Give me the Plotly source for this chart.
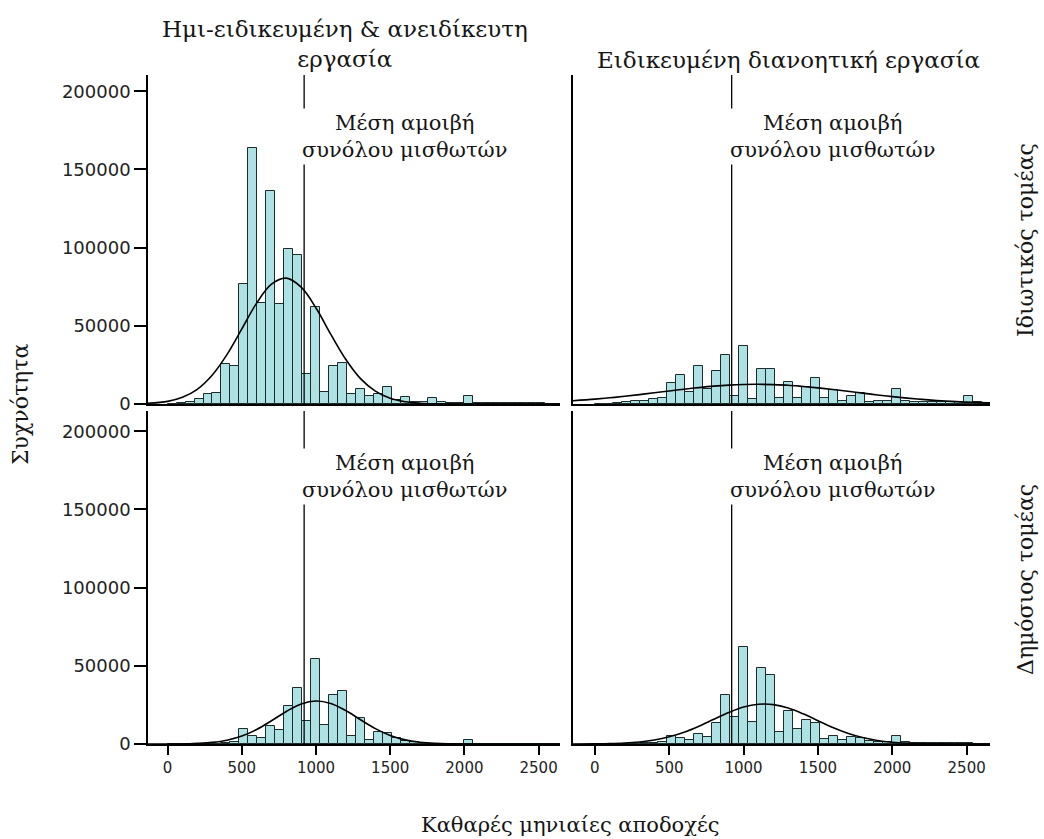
import plotly.graph_objects as go

# ---------------- data ----------------
bin_width = 60.5
bin_index = list(range(44))
bin_centers = [(k + 0.5) * bin_width for k in bin_index]

# counts per bin (private sector, semi/unskilled)
tl_counts = [300, 500, 1500, 3000, 6400, 7200, 25600, 24300, 76700, 163500, 64400, 136200,
             63700, 98900, 95100, 19200, 62200, 7500, 24300, 26400, 6200, 9400, 5000, 6200,
             10900, 2500, 4700, 1500, 1000, 3600, 1000, 800, 800, 5000, 600, 500, 400, 400,
             400, 400, 400, 400, 300, 300]
# private sector, skilled intellectual
tr_counts = [0, 300, 800, 1500, 1700, 2100, 3200, 4000, 13200, 18500, 7900, 24500, 9400,
             21100, 31300, 5300, 37300, 3200, 22200, 22200, 4000, 14300, 4000, 10700, 16400,
             3600, 9000, 1700, 5300, 6800, 1500, 2000, 1700, 9600, 1700, 1500, 1000, 1000,
             1000, 1000, 1200, 5000, 1000, 800]
# public sector, semi/unskilled
bl_counts = [0, 0, 0, 0, 0, 0, 500, 1000, 9400, 5000, 4000, 11500, 8800, 24300, 35800,
             14900, 54100, 12300, 31500, 33800, 5200, 16400, 2800, 7900, 7200, 4000, 2000,
             1000, 500, 300, 200, 200, 200, 2600, 200, 100, 100, 100, 100, 100, 100, 100,
             100, 100]
# public sector, skilled intellectual
br_counts = [0, 0, 0, 0, 300, 500, 700, 1000, 5100, 4100, 2600, 6400, 4700, 13200, 31300,
             17500, 62200, 14300, 48400, 44100, 7900, 21300, 9400, 15300, 13600, 3000, 5100,
             2600, 4700, 4100, 2000, 1500, 1000, 5100, 1000, 500, 500, 400, 400, 400, 400,
             800, 300, 300]

# fitted normal curves
curve_x = [-150, 0, 100, 200, 300, 400, 500, 600, 700, 800, 900, 1000, 1100, 1200, 1300,
           1400, 1500, 1600, 1700, 1800, 1900, 2000, 2100, 2200, 2300, 2400, 2500, 2600, 2660]
tl_curve = [300, 1700, 4300, 9400, 18400, 31600, 48000, 64500, 76600, 80500, 74700, 61400,
            44500, 28600, 16200, 8200, 3600, 1400, 500, 150, 40, 10, 0, 0, 0, 0, 0, 0, 0]
tr_curve = [2040, 3090, 3950, 4940, 6020, 7170, 8350, 9480, 10500, 11400, 12100, 12500,
            12600, 12400, 12000, 11200, 10300, 9260, 8110, 6940, 5800, 4730, 3770, 2930,
            2230, 1650, 1200, 850, 680]
bl_curve = [0, 0, 0, 380, 1030, 2440, 5090, 9290, 14900, 20800, 25600, 27500, 25900, 21400,
            15500, 9810, 5440, 2650, 1130, 420, 140, 40, 0, 0, 0, 0, 0, 0, 0]
br_curve = [0, 110, 270, 630, 1320, 2560, 4580, 7520, 11400, 15800, 20100, 23600, 25400,
            25200, 23000, 19300, 14900, 10500, 6860, 4100, 2260, 1140, 530, 230, 90, 30, 0, 0, 0]

mean_wage = 920

col_titles = ["Ημι-ειδικευμένη & ανειδίκευτη<br>εργασία", "Ειδικευμένη διανοητική εργασία"]
row_titles = ["Ιδιωτικός τομέας", "Δημόσιος τομέας"]
mean_label = "Μέση αμοιβή<br>συνόλου μισθωτών"
x_title = "Καθαρές μηνιαίες αποδοχές"
y_title = "Συχνότητα"
y_ticks = [0, 50000, 100000, 150000, 200000]
y_tick_text = ["0", "50000", "100000", "150000", "200000"]
x_ticks = [0, 500, 1000, 1500, 2000, 2500]
x_tick_text = ["0", "500", "1000", "1500", "2000", "2500"]

# ---------------- figure ----------------
BAR_FILL = "#aee1e4"
BAR_LINE = "#1e2b2b"
SERIF = "DejaVu Serif"
SANS = "DejaVu Sans"
TXT = "#151515"

fig = go.Figure()
panels = [
    (tl_counts, tl_curve, "x", "y"),
    (tr_counts, tr_curve, "x2", "y2"),
    (bl_counts, bl_curve, "x3", "y3"),
    (br_counts, br_curve, "x4", "y4"),
]
for counts, curve, xa, ya in panels:
    fig.add_trace(go.Bar(x=bin_centers, y=counts, width=bin_width, xaxis=xa, yaxis=ya,
                         marker=dict(color=BAR_FILL, line=dict(color=BAR_LINE, width=1)),
                         showlegend=False, hoverinfo="skip"))
    fig.add_trace(go.Scatter(x=curve_x, y=curve, mode="lines", xaxis=xa, yaxis=ya,
                             line=dict(color="black", width=1.6, shape="spline"),
                             showlegend=False, hoverinfo="skip"))

# geometry
L, R, T, B = 148, 54, 75, 95
W, H = 1044, 839
pw = W - L - R
ph = H - T - B
x_left = [0, (560 - L) / pw]
x_right = [(573 - L) / pw, 1]
y_top = [(744 - 404) / ph, 1]
y_bot = [0, (744 - 411) / ph]

axis_common = dict(showgrid=False, zeroline=False, showline=True, linecolor="black",
                   linewidth=1.5, mirror=False)
xtick_style = dict(tickvals=x_ticks, ticktext=x_tick_text, ticks="outside", ticklen=9,
                   tickwidth=1.5, tickcolor="black",
                   tickfont=dict(family=SANS, size=15, color="#222"))
ytick_style = dict(tickvals=y_ticks, ticktext=y_tick_text, ticks="outside", ticklen=12,
                   tickwidth=1.5, tickcolor="black",
                   tickfont=dict(family=SANS, size=18, color="#222"))
fig.update_layout(
    width=W, height=H, margin=dict(l=L, r=R, t=T, b=B),
    plot_bgcolor="white", paper_bgcolor="white", bargap=0, barmode="overlay",
    xaxis=dict(domain=x_left, range=[-132, 2644], anchor="y", showticklabels=False,
               ticks="", **axis_common),
    xaxis2=dict(domain=x_right, range=[-147, 2657], anchor="y2", showticklabels=False,
                ticks="", **axis_common),
    xaxis3=dict(domain=x_left, range=[-132, 2644], anchor="y3", **xtick_style, **axis_common),
    xaxis4=dict(domain=x_right, range=[-147, 2657], anchor="y4", **xtick_style, **axis_common),
    yaxis=dict(domain=y_top, range=[0, 210400], anchor="x", **ytick_style, **axis_common),
    yaxis2=dict(domain=y_top, range=[0, 210400], anchor="x2", showticklabels=False,
                ticks="", **axis_common),
    yaxis3=dict(domain=y_bot, range=[0, 213000], anchor="x3", **ytick_style, **axis_common),
    yaxis4=dict(domain=y_bot, range=[0, 213000], anchor="x4", showticklabels=False,
                ticks="", **axis_common),
)

# mean lines and labels
for xa, ya in [("x", "y"), ("x2", "y2"), ("x3", "y3"), ("x4", "y4")]:
    fig.add_shape(type="line", xref=xa, yref=ya + " domain", x0=mean_wage, x1=mean_wage,
                  y0=0, y1=1, line=dict(color="black", width=1.3))
    fig.add_annotation(xref=xa, yref=ya, x=mean_wage, y=171000, xanchor="left",
                       yanchor="middle", xshift=-5, text=mean_label, showarrow=False,
                       align="center", bgcolor="white", borderpad=2,
                       font=dict(family=SERIF, size=21, color=TXT))

def px_x(px):
    return (px - L) / pw

def px_y(py):
    return (H - B - py) / ph

fig.add_annotation(xref="paper", yref="paper", x=px_x(345), y=px_y(44), text=col_titles[0],
                   showarrow=False, xanchor="center", yanchor="middle", align="center",
                   font=dict(family=SERIF, size=23, color=TXT))
fig.add_annotation(xref="paper", yref="paper", x=px_x(788), y=px_y(60), text=col_titles[1],
                   showarrow=False, xanchor="center", yanchor="middle",
                   font=dict(family=SERIF, size=23, color=TXT))
fig.add_annotation(xref="paper", yref="paper", x=px_x(1025), y=px_y(240), text=row_titles[0],
                   showarrow=False, textangle=-90, xanchor="center", yanchor="middle",
                   font=dict(family=SERIF, size=22, color=TXT))
fig.add_annotation(xref="paper", yref="paper", x=px_x(1025), y=px_y(580), text=row_titles[1],
                   showarrow=False, textangle=-90, xanchor="center", yanchor="middle",
                   font=dict(family=SERIF, size=22, color=TXT))
fig.add_annotation(xref="paper", yref="paper", x=px_x(20), y=px_y(405), text=y_title,
                   showarrow=False, textangle=-90, xanchor="center", yanchor="middle",
                   font=dict(family=SERIF, size=22, color=TXT))
fig.add_annotation(xref="paper", yref="paper", x=px_x(570), y=px_y(825), text=x_title,
                   showarrow=False, xanchor="center", yanchor="middle",
                   font=dict(family=SERIF, size=21, color=TXT))

fig.write_html("out.html")
